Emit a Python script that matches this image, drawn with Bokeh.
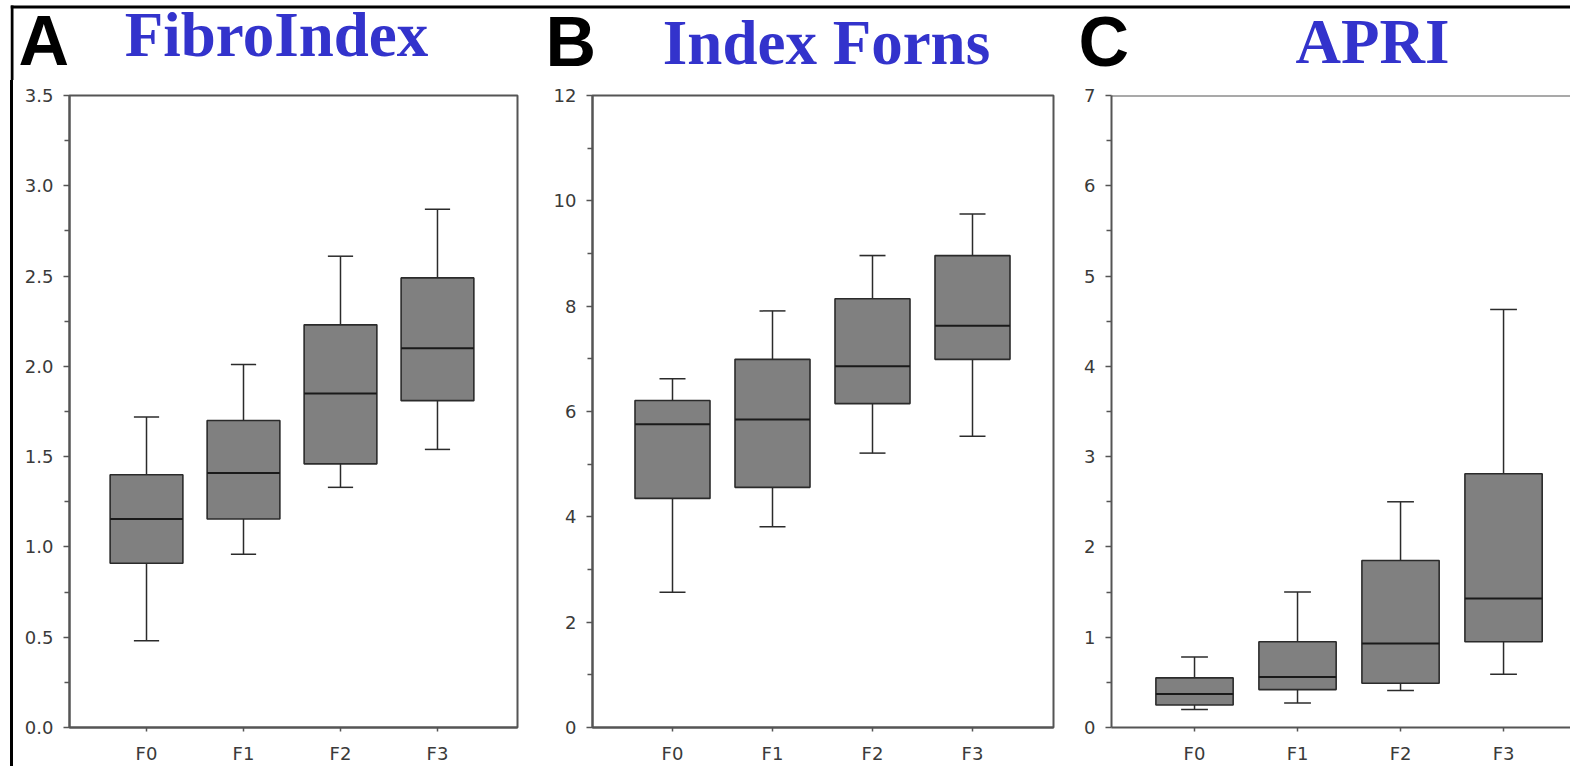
from bokeh.plotting import figure
from bokeh.layouts import row, column
from bokeh.models import Range1d, FixedTicker, Span
from bokeh.core.properties import value
from bokeh.embed import file_html
from bokeh.resources import INLINE

categories = ["F0", "F1", "F2", "F3"]
panel_letters = ["A", "B", "C"]
panel_titles = ["FibroIndex", "Index Forns", "APRI"]

fibro_lower = [0.48, 0.96, 1.33, 1.54]
fibro_q1 = [0.91, 1.155, 1.46, 1.81]
fibro_median = [1.155, 1.41, 1.85, 2.10]
fibro_q3 = [1.40, 1.70, 2.23, 2.49]
fibro_upper = [1.72, 2.01, 2.61, 2.87]

forns_lower = [2.57, 3.81, 5.21, 5.53]
forns_q1 = [4.35, 4.56, 6.15, 6.99]
forns_median = [5.76, 5.85, 6.86, 7.63]
forns_q3 = [6.21, 6.99, 8.14, 8.96]
forns_upper = [6.62, 7.91, 8.96, 9.75]

apri_lower = [0.20, 0.27, 0.41, 0.59]
apri_q1 = [0.25, 0.42, 0.49, 0.95]
apri_median = [0.37, 0.56, 0.93, 1.43]
apri_q3 = [0.55, 0.95, 1.85, 2.81]
apri_upper = [0.78, 1.50, 2.50, 4.63]

fibro_ticks = [0.0, 0.5, 1.0, 1.5, 2.0, 2.5, 3.0, 3.5]
fibro_minor = [0.25, 0.75, 1.25, 1.75, 2.25, 2.75, 3.25]
forns_ticks = [0, 2, 4, 6, 8, 10, 12]
forns_minor = [1, 3, 5, 7, 9, 11]
apri_ticks = [0, 1, 2, 3, 4, 5, 6, 7]
apri_minor = [0.5, 1.5, 2.5, 3.5, 4.5, 5.5, 6.5]

# header text placement (page pixels, vertical middle of capitals)
letter_x = [18, 545, 1078]
letter_y = [40, 41, 41]
title_x = [276, 826, 1372]
title_y = [34, 42, 41]

AX = "#555555"
TXT = "#3a3a3a"
BOXW = 0.75
CAPW = 0.26
PAGE_LEFT = 10       # left edge of the black frame
BORDER = 3
HEAD_H = 80
H = 766 - HEAD_H
WIDTHS = [527, 530, 500]


def panel(lower, q1, med, q3, upper, ymax, ticks, minor, fmt,
          width, bl, br, bt, bb, xs, xe, full_outline=True):
    p = figure(width=width, height=H, output_backend="svg",
               toolbar_location=None,
               x_range=Range1d(xs, xe), y_range=Range1d(0, ymax),
               min_border_left=bl, min_border_right=br,
               min_border_top=bt, min_border_bottom=bb)
    p.grid.visible = False
    p.background_fill_color = "white"
    p.border_fill_color = "white"
    if full_outline:
        p.outline_line_color = AX
        p.outline_line_width = 2
    else:
        p.outline_line_color = None
        p.add_layout(Span(location=ymax, dimension="width",
                          line_color=AX, line_width=2))

    xpos = list(range(len(categories)))
    wc = "#2b2b2b"
    p.segment(x0=xpos, y0=q3, x1=xpos, y1=upper, line_color=wc, line_width=1.5)
    p.segment(x0=xpos, y0=lower, x1=xpos, y1=q1, line_color=wc, line_width=1.5)
    p.segment(x0=[x - CAPW / 2 for x in xpos], y0=upper,
              x1=[x + CAPW / 2 for x in xpos], y1=upper, line_color=wc, line_width=1.5)
    p.segment(x0=[x - CAPW / 2 for x in xpos], y0=lower,
              x1=[x + CAPW / 2 for x in xpos], y1=lower, line_color=wc, line_width=1.5)
    p.vbar(x=xpos, width=BOXW, bottom=q1, top=q3, fill_color="#808080",
           line_color=wc, line_width=1.6)
    p.segment(x0=[x - BOXW / 2 for x in xpos], y0=med,
              x1=[x + BOXW / 2 for x in xpos], y1=med,
              line_color="#1a1a1a", line_width=2)

    for ax in (p.xaxis[0], p.yaxis[0]):
        ax.axis_line_color = AX
        ax.axis_line_width = 2
        ax.major_tick_line_color = AX
        ax.minor_tick_line_color = AX
        ax.major_tick_line_width = 1.5
        ax.minor_tick_line_width = 1.5
        ax.major_tick_in = 0
        ax.minor_tick_in = 0
        ax.major_label_text_font = "DejaVu Sans"
        ax.major_label_text_font_size = "18px"
        ax.major_label_text_color = TXT
    p.xaxis.ticker = FixedTicker(ticks=xpos)
    p.xaxis.major_label_overrides = {i: c for i, c in enumerate(categories)}
    p.xaxis.major_tick_out = 4
    p.xaxis.minor_tick_out = 0
    p.xaxis.major_label_standoff = 11
    p.yaxis.ticker = FixedTicker(ticks=ticks, minor_ticks=minor)
    p.yaxis.major_label_overrides = {t: fmt.format(t) for t in ticks}
    p.yaxis.major_tick_out = 6
    p.yaxis.minor_tick_out = 5
    p.yaxis.major_label_standoff = 10
    return p


pA = panel(fibro_lower, fibro_q1, fibro_median, fibro_q3, fibro_upper,
           3.5, fibro_ticks, fibro_minor, "{:.1f}",
           width=WIDTHS[0], bl=56, br=23, bt=95 - HEAD_H, bb=766 - 731,
           xs=-0.794, xe=3.825)
pB = panel(forns_lower, forns_q1, forns_median, forns_q3, forns_upper,
           12, forns_ticks, forns_minor, "{:d}",
           width=WIDTHS[1], bl=52, br=17, bt=93 - HEAD_H, bb=766 - 733,
           xs=-0.8, xe=3.81)
pC = panel(apri_lower, apri_q1, apri_median, apri_q3, apri_upper,
           7, apri_ticks, apri_minor, "{:d}",
           width=WIDTHS[2], bl=41, br=0, bt=94 - HEAD_H, bb=766 - 732,
           xs=-0.806, xe=3.65, full_outline=False)

# header strip with panel letters, titles and the black frame corner
head_w = BORDER + sum(WIDTHS)
head = figure(width=head_w, height=HEAD_H, output_backend="svg",
              toolbar_location=None, x_axis_location=None, y_axis_location=None,
              x_range=Range1d(PAGE_LEFT, PAGE_LEFT + head_w),
              y_range=Range1d(HEAD_H, 0), min_border=0)
head.grid.visible = False
head.outline_line_color = None
head.background_fill_color = "white"
head.border_fill_color = "white"
head.add_layout(Span(location=6.5, dimension="width", line_color="black", line_width=3))
head.segment(x0=[PAGE_LEFT + 1.5], y0=[5], x1=[PAGE_LEFT + 1.5], y1=[HEAD_H],
             line_color="black", line_width=3)
head.text(x=letter_x, y=letter_y, text=panel_letters,
          text_font=value("Liberation Sans"), text_font_style="bold",
          text_font_size=value("70px"), text_color="black",
          text_align="left", text_baseline="middle")
head.text(x=title_x, y=title_y, text=panel_titles,
          text_font=value("Liberation Serif"), text_font_style="bold",
          text_font_size=value("63px"), text_color="#3333cc",
          text_align="center", text_baseline="middle")

panels = row(pA, pB, pC, styles={"border-left": "3px solid black"})
lay = column(head, panels,
             styles={"margin-left": "10px", "margin-bottom": "-24px"})

open("out.html", "w").write(file_html(lay, INLINE))
